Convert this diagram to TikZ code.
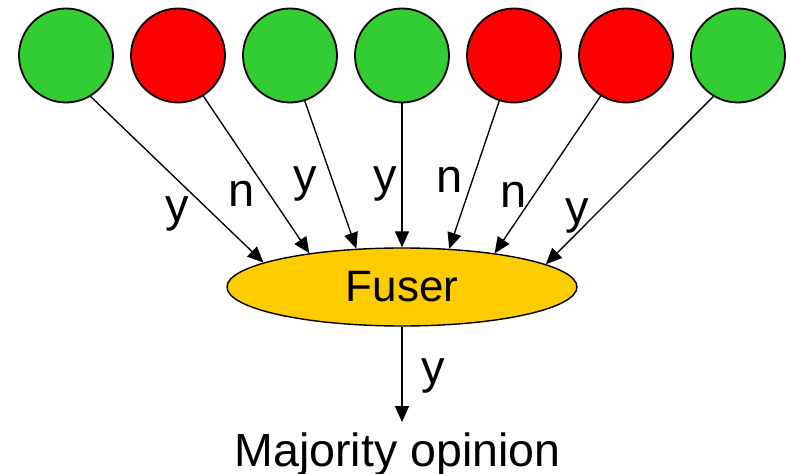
\documentclass[tikz,border=0pt]{standalone}
\usepackage{fontspec}
\setmainfont{Liberation Sans}
\usetikzlibrary{shapes.geometric,arrows.meta}
\definecolor{voteyes}{RGB}{51,204,51}
\definecolor{voteno}{RGB}{255,0,0}
\definecolor{fusefill}{RGB}{255,204,0}
\begin{document}
\begin{tikzpicture}[x=1bp,y=-1bp,
  voter/.style={circle,draw=black,line width=1.8bp,minimum size=94bp,inner sep=0pt},
  yes/.style={voter,fill=voteyes},
  no/.style={voter,fill=voteno},
  fuserbox/.style={ellipse,draw=black,line width=1.4bp,fill=fusefill,
    minimum width=350bp,minimum height=78bp,inner sep=0pt,
    font=\fontsize{44bp}{52bp}\selectfont},
  vote/.style={-{Triangle[length=16bp,width=14bp]},line width=1.35bp},
  lbl/.style={anchor=base,inner sep=0pt,font=\fontsize{47bp}{56bp}\selectfont},
]
\useasboundingbox (0,0) rectangle (788,474);

% voters
\node[yes] (c1) at (66,55.5) {};
\node[no]  (c2) at (178,55.5) {};
\node[yes] (c3) at (290,55.5) {};
\node[yes] (c4) at (402,55.5) {};
\node[no]  (c5) at (514,55.5) {};
\node[no]  (c6) at (626,55.5) {};
\node[yes] (c7) at (738,55.5) {};

% fusion centre
\node[fuserbox] (fuser) at (402,287) {Fuser};

% result
\node[lbl,font=\fontsize{46.5bp}{56bp}\selectfont] (out) at (397.5,466) {Majority opinion};

% votes
\draw[vote] (c1.-59)  -- (fuser.170.6);
\draw[vote] (c2.-58)  -- (fuser.160);
\draw[vote] (c3.-72)  -- (fuser.140.9);
\draw[vote] (c4.-90)  -- (fuser.90);
\draw[vote] (c5.-108) -- (fuser.39.1);
\draw[vote] (c6.-122) -- (fuser.20);
\draw[vote] (c7.-121) -- (fuser.9.8);
\draw[vote] (fuser.south) -- ([yshift=10bp]fuser.south |- out.north);

% vote labels
\node[lbl] (l1) at (177,222) {y};
\node[lbl] (l2) at (242,207) {n};
\node[lbl] (l3) at (305,192) {y};
\node[lbl] (l4) at (385,192) {y};
\node[lbl] (l5) at (450,193) {n};
\node[lbl] (l6) at (514,208) {n};
\node[lbl] (l7) at (577,224) {y};
\node[lbl] (lout) at (433,384) {y};
\end{tikzpicture}
\end{document}
